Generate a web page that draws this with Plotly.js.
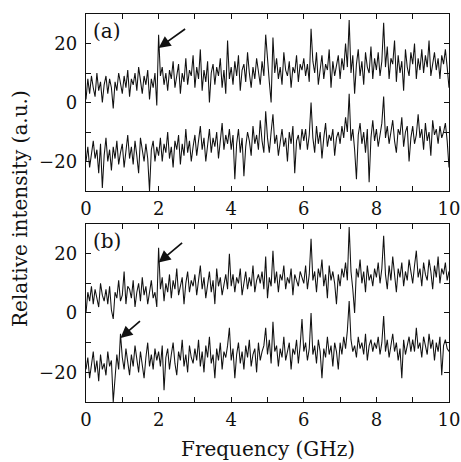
<!DOCTYPE html>
<html>
<head>
<meta charset="utf-8">
<script src="https://cdn.plot.ly/plotly-3.0.1.min.js"></script>
<style>html,body{margin:0;padding:0;background:#fff;}#chart{width:461px;height:462px;}</style>
</head>
<body>
<div id="chart"></div>
<script>
// Frequency grid (GHz): samples every 0.05 GHz from 0 to 10
const freqStart = 0;
const freqStep = 0.05;

// Panel (a) upper trace
const a1 = [
  1, 8, 3, 9, 5, 2, 10, 4, 7, 0, 6, 9, 3, 8, 5, -2, 7, 4, 10, 6,
  3, 9, 5, 11, 2, 8, 6, 10, 4, 12, 7, 3, 9, 6, 11, 1, 8, 5, 10, -1,
  23, 9, 12, 6, 10, 4, 11, 8, 14, 5, 9, 13, 3, 10, 7, 15, 6, 11, 9, 16,
  5, 12, 8, 18, 4, 11, 7, 14, 0, 10, 13, 6, 12, 9, 15, 5, 11, 3, 21, 8,
  12, 6, 14, 9, 16, 4, 11, 13, 7, 17, 10, 5, 12, 8, 15, 11, 6, 14, 9, 23,
  13, 7, 0, 22, 10, 15, 8, 12, 6, 17, 11, 9, 14, 5, 12, 10, 16, 7, 13, 11,
  15, 9, 13, 7, 25, 14, 10, 17, 6, 12, 16, 8, 13, 11, 18, 5, 14, 9, 12, 16,
  8, 15, 11, 20, 12, 28, 10, 16, 3, 13, 18, 9, 14, 6, 17, 12, 10, 19, 8, 15,
  11, 17, 9, 14, 27, 12, 19, 8, 15, 13, 21, 7, 16, 10, 14, 4, 18, 12, 9, 17,
  13, 20, 8, 15, 11, 18, 10, 16, 12, 21, 9, 14, 17, 11, 15, 8, 16, 13, 18, 12,
  5
];
// Panel (a) lower trace
const a2 = [
  -20, -15, -22, -17, -13, -19, -16, -24, -14, -29, -18, -12, -20, -16, -23, -15, -19, -13, -21, -17,
  -14, -22, -16, -11, -19, -15, -21, -13, -18, -24, -12, -17, -20, -14, -19, -30, -16, -13, -20, -15,
  -18, -12, -20, -14, -17, -10, -19, -15, -22, -13, -16, -11, -21, -14, -18, -9, -17, -13, -20, -15,
  -11, -18, -13, -8, -16, -12, -20, -14, -9, -17, -12, -15, -10, -19, -13, -7, -16, -11, -14, -9,
  -16, -11, -26, -14, -9, -17, -12, -25, -15, -10, -13, -18, -8, -14, -11, -16, -6, -13, -17, -3,
  -12, -17, -10, -4, -14, -11, -18, -13, -9, -15, -12, -20, -10, -14, -8, -24, -13, -11, -16, -9,
  -13, -9, -16, -11, 0, -12, -17, -8, -14, -10, -19, -12, -7, -15, -11, -13, -9, -18, -12, -10,
  -14, -8, -12, -5, -10, 3, -13, -9, -16, -26, -11, -7, -14, -10, -17, -9, -27, -12, -6, -13,
  -9, -15, -11, -7, 2, -12, -8, -14, -10, -6, -13, -17, -9, -11, -5, -15, -10, -8, -20, -12,
  -8, -14, -11, -4, -12, -9, -16, -7, -13, -10, -18, -6, -11, -9, -14, -8, -12, -10, -7, -13,
  -22
];
// Panel (b) upper trace
const b1 = [
  0, 7, 4, 9, 3, 8, 5, 2, 10, 6, 4, 8, 3, 9, 1, -2, 7, 5, 11, 4,
  6, 14, 3, 9, 8, 5, 11, 2, 7, 10, 4, 12, 6, 9, 3, 8, 11, 5, 7, 2,
  22, 8, 12, 4, 10, 7, 13, 5, 11, 8, 15, 6, 9, 12, 3, 10, 14, 7, 11, 9,
  13, 6, 11, 16, 8, 12, 5, 10, 14, 7, 11, 3, 15, 9, 12, 6, 10, 13, 8, 20,
  9, 13, 7, 12, 10, 15, 6, 11, 14, 8, 12, 9, 16, 7, 11, 13, 10, 14, 8, 19,
  5, 12, 9, 21, 10, 14, 7, 13, 11, 16, 8, 12, 10, 15, 6, 13, 11, 9, 14, 12,
  10, 16, 8, 13, 25, 11, 14, 7, 15, 12, 18, 9, 13, 5, 16, 11, 14, 10, 3, 13,
  9, 15, 12, 17, 11, 29, 14, 8, 0, 15, 12, 18, 10, 14, 7, 16, 11, 13, 9, 15,
  12, 17, 10, 15, 26, 13, 8, 16, 11, 19, 14, 7, 15, 12, 17, 9, 14, 11, 18, 13,
  10, 16, 21, 12, 15, 9, 17, 13, 11, 18, 14, 8, 16, 12, 19, 10, 15, 13, 17, 11,
  14
];
// Panel (b) lower trace
const b2 = [
  -19, -15, -22, -17, -13, -20, -16, -23, -14, -19, -17, -21, -13, -18, -16, -30, -20, -14, -19, -7,
  -15, -19, -12, -17, -21, -14, -18, -11, -16, -20, -13, -17, -22, -15, -10, -18, -14, -19, -12, -16,
  -13, -18, -11, -26, -15, -12, -19, -14, -10, -17, -21, -13, -16, -9, -18, -14, -20, -11, -15, -17,
  -12, -16, -9, -18, -13, -20, -11, -15, -8, -17, -14, -22, -12, -16, -10, -19, -13, -15, -11, -5,
  -16, -12, -22, -14, -10, -17, -13, -19, -11, -15, -9, -18, -14, -12, -20, -10, -16, -13, -11, -5,
  -14, -9, -17, -3, -13, -11, -18, -12, -15, -8, -16, -13, -10, -19, -12, -14, -9, -17, -11, -2,
  -13, -10, -16, -12, 0, -14, -11, -17, -9, -13, -22, -12, -15, -8, -14, -11, -18, -10, -13, -19,
  -10, -14, -8, -12, -6, 4, -9, -13, -11, -15, -8, -12, -10, -14, -7, -16, -11, -9, -13, -10,
  -12, -8, -14, -10, -1, -13, -9, -15, -11, -7, -13, -10, -16, -12, -22, -9, -14, -11, -8, -13,
  -9, -13, -5, -12, -10, -15, -8, -11, -14, -7, -12, -9, -16, -10, -13, -8, -21, -11, -9, -12,
  -13
];

const xTickVals = [0, 2, 4, 6, 8, 10];
const yTickVals = [-20, 0, 20];
const panelLabels = ['(a)', '(b)'];
const xTitle = 'Frequency (GHz)';
const yTitle = 'Relative intensity (a.u.)';

const freq = a1.map((_, i) => +(freqStart + i * freqStep).toFixed(2));

const lineStyle = {color: '#111', width: 1.05};
const traces = [
  {x: freq, y: a1, xaxis: 'x', yaxis: 'y', mode: 'lines', line: lineStyle, hoverinfo: 'skip'},
  {x: freq, y: a2, xaxis: 'x', yaxis: 'y', mode: 'lines', line: lineStyle, hoverinfo: 'skip'},
  {x: freq, y: b1, xaxis: 'x2', yaxis: 'y2', mode: 'lines', line: lineStyle, hoverinfo: 'skip'},
  {x: freq, y: b2, xaxis: 'x2', yaxis: 'y2', mode: 'lines', line: lineStyle, hoverinfo: 'skip'}
];

const font = {family: '"DejaVu Serif", "Liberation Serif", serif', size: 18, color: '#111'};

function xAxis(anchor) {
  return {
    anchor: anchor, domain: [0, 1], range: [0, 10],
    tickmode: 'array', tickvals: xTickVals, ticks: 'inside', ticklen: 5, tickwidth: 1, tickcolor: '#111',
    minor: {dtick: 1, tick0: 0, ticks: 'inside', ticklen: 5, tickwidth: 1, tickcolor: '#111'},
    showline: true, linecolor: '#111', linewidth: 1.3, mirror: 'allticks',
    showgrid: false, zeroline: false, tickfont: font, ticklabelstandoff: 1
  };
}
function yAxis(anchor, domain) {
  return {
    anchor: anchor, domain: domain, range: [-30, 30],
    tickmode: 'array', tickvals: yTickVals, ticks: 'inside', ticklen: 5, tickwidth: 1, tickcolor: '#111',
    minor: {dtick: 10, tick0: 0, ticks: 'inside', ticklen: 5, tickwidth: 1, tickcolor: '#111'},
    showline: true, linecolor: '#111', linewidth: 1.3, mirror: 'allticks',
    showgrid: false, zeroline: false, tickfont: font, ticklabelstandoff: 4
  };
}

const arrow = {showarrow: true, arrowhead: 2, arrowsize: 1.4, arrowwidth: 1.7, arrowcolor: '#111', text: ''};

const layout = {
  width: 461, height: 462,
  margin: {l: 86, r: 12, t: 14, b: 60},
  paper_bgcolor: '#fff', plot_bgcolor: '#fff',
  showlegend: false,
  font: font,
  xaxis: xAxis('y'),
  yaxis: yAxis('x', [0.5438, 1]),
  xaxis2: xAxis('y2'),
  yaxis2: yAxis('x2', [0, 0.4588]),
  annotations: [
    {text: panelLabels[0], xref: 'x domain', yref: 'y domain', x: 0.015, y: 0.985, xanchor: 'left', yanchor: 'top', showarrow: false, font: {family: font.family, size: 20, color: '#111'}},
    {text: panelLabels[1], xref: 'x2 domain', yref: 'y2 domain', x: 0.015, y: 0.985, xanchor: 'left', yanchor: 'top', showarrow: false, font: {family: font.family, size: 20, color: '#111'}},
    Object.assign({xref: 'x', yref: 'y', x: 2.0, y: 18.5, ax: 28, ay: -20}, arrow),
    Object.assign({xref: 'x2', yref: 'y2', x: 2.0, y: 17, ax: 25, ay: -21}, arrow),
    Object.assign({xref: 'x2', yref: 'y2', x: 0.95, y: -8.4, ax: 21, ay: -18}, arrow),
    {text: xTitle, xref: 'paper', yref: 'paper', x: 0.5, y: -0.122, xanchor: 'center', yanchor: 'middle', showarrow: false, font: {family: font.family, size: 20, color: '#111'}},
    {text: yTitle, xref: 'paper', yref: 'paper', x: -0.182, y: 0.5, xanchor: 'center', yanchor: 'middle', textangle: -90, showarrow: false, font: {family: font.family, size: 20, color: '#111'}}
  ]
};

Plotly.newPlot('chart', traces, layout, {staticPlot: true, displayModeBar: false});
</script>
</body>
</html>
